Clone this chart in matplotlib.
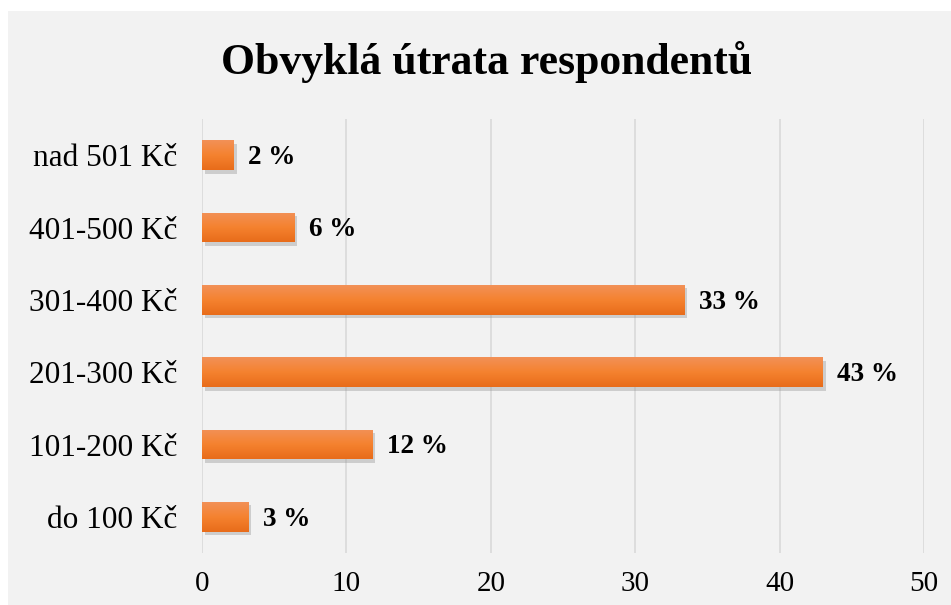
import matplotlib.pyplot as plt
import matplotlib.patheffects as pe
from matplotlib.patches import Rectangle
from matplotlib.colors import LinearSegmentedColormap
import numpy as np

plt.rcParams['font.family'] = ['Liberation Serif', 'DejaVu Serif']

categories = ['do 100 Kč', '101-200 Kč', '201-300 Kč', '301-400 Kč', '401-500 Kč', 'nad 501 Kč']
values = [3.2, 11.8, 43.0, 33.4, 6.4, 2.2]
labels = ['3 %', '12 %', '43 %', '33 %', '6 %', '2 %']

fig = plt.figure(figsize=(9.51, 6.05), dpi=100, facecolor='white')
# gray chart area
fig.patches.append(Rectangle((8 / 951, 0), 1, 1 - 11 / 605, transform=fig.transFigure,
                             facecolor='#f2f2f2', edgecolor='none', zorder=-10))

ax = fig.add_axes([202 / 951, 1 - 553 / 605, (924 - 202) / 951, (553 - 119) / 605])
ax.set_facecolor('none')

y = np.arange(len(categories))
bars = ax.barh(y, values, height=0.414, color='#f07e2c', zorder=3,
               path_effects=[pe.SimplePatchShadow(offset=(2, -2.5), shadow_rgbFace='#8a8a8a', alpha=0.35),
                             pe.Normal()])

# vertical gradient on each bar (lighter top, darker bottom)
grad = np.linspace(0, 1, 64).reshape(-1, 1)
cmap = LinearSegmentedColormap.from_list('og', ['#f29157', '#f5822f', '#e86c1a'])
for b in bars:
    x0, y0, w, h = b.get_x(), b.get_y(), b.get_width(), b.get_height()
    im = ax.imshow(grad, cmap=cmap, aspect='auto', extent=(x0, x0 + w, y0, y0 + h),
                   origin='upper', zorder=4)
    im.set_clip_path(b)

for b, lab in zip(bars, labels):
    ax.text(b.get_width() + 1.0, b.get_y() + b.get_height() / 2 - 0.03, lab,
            ha='left', va='center', fontsize=19.5, fontweight='bold', zorder=5)

ax.set_xlim(0, 50)
ax.set_ylim(-0.5, len(categories) - 0.5)
ax.set_xticks([0, 10, 20, 30, 40, 50])
ax.set_yticks(y)
ax.set_yticklabels(categories, fontsize=22.5)
ax.grid(axis='x', color='#d9d9d9', linewidth=1.2, zorder=1)
ax.set_axisbelow(True)
for s in ax.spines.values():
    s.set_visible(False)
ax.tick_params(axis='both', length=0)
ax.tick_params(axis='x', labelsize=21, pad=13)
ax.tick_params(axis='y', pad=18)

fig.text(487 / 951, 1 - 62 / 605, 'Obvyklá útrata respondentů', ha='center', va='center',
         fontsize=31.5, fontweight='bold')

fig.savefig('out.png', dpi=100, facecolor='white')
